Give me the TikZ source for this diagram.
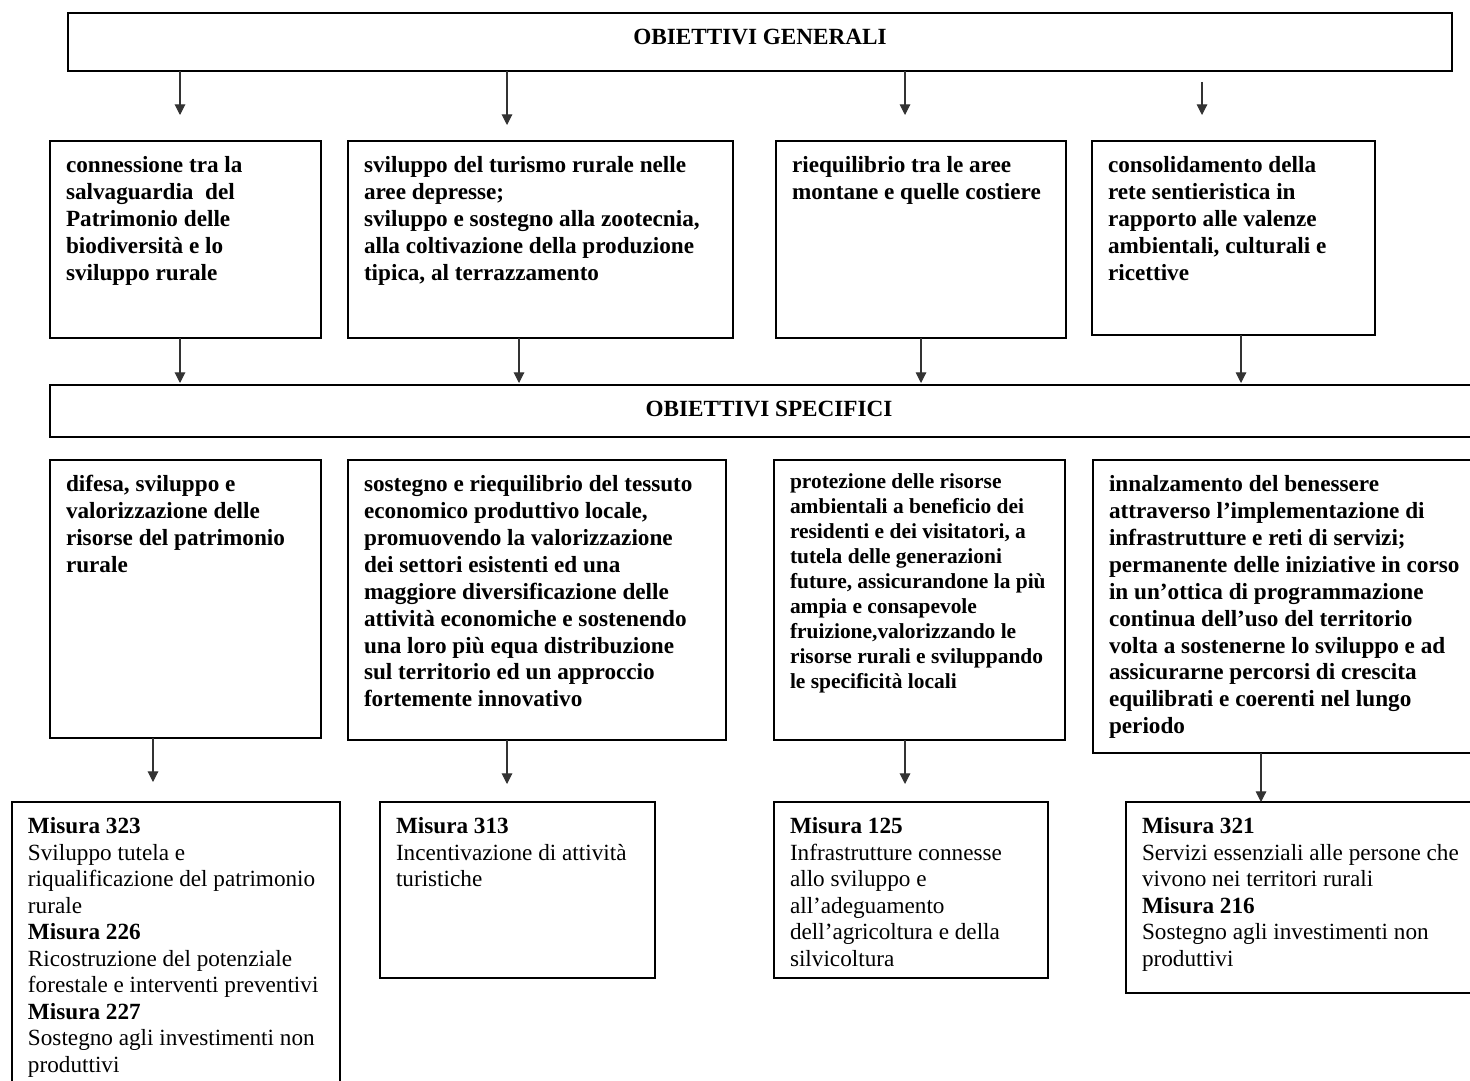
\documentclass[tikz,border=0pt]{standalone}
\usepackage{fontspec}
\setmainfont{Liberation Serif}
\usetikzlibrary{arrows.meta,positioning}

\newlength{\px}
\setlength{\px}{0.02cm}
% testo in alto nel riquadro: larghezza, altezza (px), testo
\newcommand{\cella}[3]{\parbox[t][\dimexpr#2\px-26\px\relax][t]{\dimexpr#1\px-32\px\relax}{\raggedright\strut#3}}

\tikzset{
  riquadro/.style={draw, line width=0.9pt, anchor=north west, outer sep=0pt, inner xsep=16\px, inner ysep=13\px, font=\fontsize{13.2}{15.3}\selectfont\bfseries},
  misura/.style={riquadro, font=\fontsize{13.2}{15.1}\selectfont},
  freccia/.style={-{Triangle[length=6pt,width=6pt]}, line width=0.6pt, draw=black!80},
}

\begin{document}
\begin{tikzpicture}[x=0.02cm, y=-0.02cm]
    \clip (0,0) rectangle (1470,1081);

    \node[riquadro] (generali) at (68,13) {\cella{1384}{58}{\centering OBIETTIVI GENERALI}};

    \node[riquadro] (connessione) at (50,141) {\cella{271}{197}{connessione tra la\\ salvaguardia~ del\\ Patrimonio delle\\ biodiversità e lo\\ sviluppo rurale}};
    \node[riquadro, right=27\px of connessione.north east, anchor=north west] (turismo) {\cella{385}{197}{sviluppo del turismo rurale nelle\\ aree depresse;\\ sviluppo e sostegno alla zootecnia,\\ alla coltivazione della produzione\\ tipica, al terrazzamento}};
    \node[riquadro, right=43\px of turismo.north east, anchor=north west] (riequilibrio) {\cella{290}{197}{riequilibrio tra le aree\\ montane e quelle costiere}};
    \node[riquadro, right=26\px of riequilibrio.north east, anchor=north west] (sentieri) {\cella{283}{194}{consolidamento della\\ rete sentieristica in\\ rapporto alle valenze\\ ambientali, culturali e\\ ricettive}};

    \node[riquadro] (specifici) at (50,385) {\cella{1438}{52}{\centering OBIETTIVI SPECIFICI}};

    \node[riquadro] (difesa) at (50,460) {\cella{271}{278}{difesa, sviluppo e\\ valorizzazione delle\\ risorse del patrimonio\\ rurale}};
    \node[riquadro, right=27\px of difesa.north east, anchor=north west] (tessuto) {\cella{378}{280}{sostegno e riequilibrio del tessuto\\ economico produttivo locale,\\ promuovendo la valorizzazione\\ dei settori esistenti ed una\\ maggiore diversificazione delle\\ attività economiche e sostenendo\\ una loro più equa distribuzione\\ sul territorio ed un approccio\\ fortemente innovativo}};
    \node[riquadro, right=48\px of tessuto.north east, anchor=north west, inner ysep=11\px, font=\fontsize{12.2}{14.2}\selectfont\bfseries] (protezione) {\cella{291}{284}{protezione delle risorse\\ ambientali a beneficio dei\\ residenti e dei visitatori, a\\ tutela delle generazioni\\ future, assicurandone la più\\ ampia e consapevole\\ fruizione,valorizzando le\\ risorse rurali e sviluppando\\ le specificità locali}};
    \node[riquadro, right=28\px of protezione.north east, anchor=north west] (benessere) {\cella{395}{293}{innalzamento del benessere\\ attraverso l'implementazione di\\ infrastrutture e reti di servizi;\\ permanente delle iniziative in corso\\ in un’ottica di programmazione\\ continua dell’uso del territorio\\ volta a sostenerne lo sviluppo e ad\\ assicurarne percorsi di crescita\\ equilibrati e coerenti nel lungo\\ periodo}};

    \node[misura] (mis323) at (12,802) {\cella{328}{300}{\textbf{Misura 323}\\ Sviluppo tutela e\\ riqualificazione del patrimonio\\ rurale\\ \textbf{Misura 226}\\ Ricostruzione del potenziale\\ forestale e interventi preventivi\\ \textbf{Misura 227}\\ Sostegno agli investimenti non\\ produttivi}};
    \node[misura, right=40\px of mis323.north east, anchor=north west] (mis313) {\cella{275}{176}{\textbf{Misura 313}\\ Incentivazione di attività\\ turistiche}};
    \node[misura, right=119\px of mis313.north east, anchor=north west] (mis125) {\cella{274}{176}{\textbf{Misura 125}\\ Infrastrutture connesse\\ allo sviluppo e\\ all’adeguamento\\ dell’agricoltura e della\\ silvicoltura}};
    \node[misura, right=78\px of mis125.north east, anchor=north west] (mis321) {\cella{362}{191}{\textbf{Misura 321}\\ Servizi essenziali alle persone che\\ vivono nei territori rurali\\ \textbf{Misura 216}\\ Sostegno agli investimenti non\\ produttivi}};

    % frecce
    \draw[freccia, shorten >=26\px] (generali.south -| 180,0) -- (connessione.north -| 180,0);
    \draw[freccia, shorten >=16\px] (generali.south -| 507,0) -- (turismo.north -| 507,0);
    \draw[freccia, shorten >=26\px] (generali.south -| 905,0) -- (riequilibrio.north -| 905,0);
    \draw[freccia, shorten <=11\px, shorten >=26\px] (generali.south -| 1202,0) -- (sentieri.north -| 1202,0);

    \draw[freccia, shorten >=2\px] (connessione.south -| 180,0) -- (specifici.north -| 180,0);
    \draw[freccia, shorten >=2\px] (turismo.south -| 519,0) -- (specifici.north -| 519,0);
    \draw[freccia, shorten >=2\px] (riequilibrio.south -| 921,0) -- (specifici.north -| 921,0);
    \draw[freccia, shorten >=2\px] (sentieri.south -| 1241,0) -- (specifici.north -| 1241,0);

    \draw[freccia, shorten >=20\px] (difesa.south -| 153,0) -- (mis323.north -| 153,0);
    \draw[freccia, shorten >=18\px] (tessuto.south -| 507,0) -- (mis313.north -| 507,0);
    \draw[freccia, shorten >=18\px] (protezione.south -| 905,0) -- (mis125.north -| 905,0);
    \draw[freccia] (benessere.south -| 1261,0) -- (mis321.north -| 1261,0);
\end{tikzpicture}
\end{document}
